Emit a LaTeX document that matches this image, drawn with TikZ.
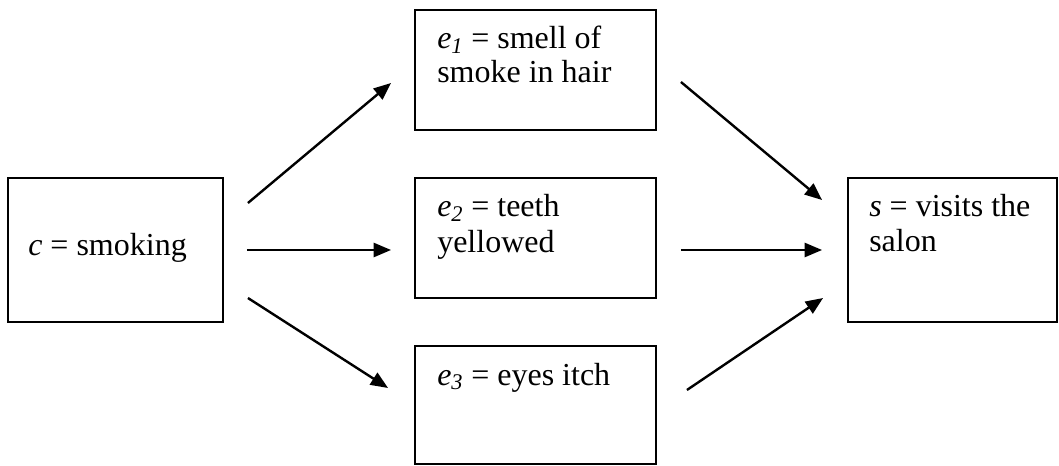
\documentclass[tikz,border=0pt]{standalone}
\usepackage{fontspec}
\setmainfont{Liberation Serif}
\usetikzlibrary{arrows.meta}
\begin{document}
\begin{tikzpicture}[x=0.75pt,y=-0.75pt,
  box/.style={draw, line width=1.4pt, inner sep=0pt, rectangle},
  lbl/.style={anchor=base west, inner sep=0pt, font=\fontsize{24}{28}\selectfont},
  arr/.style={line width=1.8pt, -{Triangle[length=13pt,width=10.5pt]}}]
\useasboundingbox (0,0) rectangle (1059,466);

% boxes
\node[box, minimum width=161.25pt, minimum height=108pt] (c)  at (115.5,250) {};
\node[box, minimum width=180.75pt, minimum height=90pt]  (e1) at (535.5,70)  {};
\node[box, minimum width=180.75pt, minimum height=90pt]  (e2) at (535.5,238) {};
\node[box, minimum width=180.75pt, minimum height=88.5pt] (e3) at (535.5,405) {};
\node[box, minimum width=156.75pt, minimum height=108pt] (s)  at (952.5,250) {};

% texts
\node[lbl] (ct)  at (28,256)  {\textit{c} = smoking};
\node[lbl] (e1a) at (437,49)  {\textit{e}\textsubscript{\textit{1}} = smell of};
\node[lbl] (e1b) at (437,83)  {smoke in hair};
\node[lbl] (e2a) at (437,217) {\textit{e}\textsubscript{\textit{2}} = teeth};
\node[lbl] (e2b) at (437,253) {yellowed};
\node[lbl] (e3a) at (437,385) {\textit{e}\textsubscript{\textit{3}} = eyes itch};
\node[lbl] (sa)  at (869,217) {\textit{s} = visits the};
\node[lbl] (sb)  at (869,252) {salon};

% arrows from the cause to the effects
\draw[arr] ([shift={(24,-47)}]c.east) -- ([shift={(-23,13)}]e1.west);
\draw[arr] ([shift={(23,0)}]c.east)   -- ([shift={(-23,12)}]e2.west);
\draw[arr] ([shift={(24,48)}]c.east)  -- ([shift={(-26,-17)}]e3.west);

% arrows from the effects to the salon
\draw[arr] ([shift={(24,12)}]e1.east)  -- ([shift={(-25,-50)}]s.west);
\draw[arr] ([shift={(24,12)}]e2.east)  -- ([shift={(-25,0)}]s.west);
\draw[arr] ([shift={(30,-15)}]e3.east) -- ([shift={(-24,48)}]s.west);
\end{tikzpicture}
\end{document}
